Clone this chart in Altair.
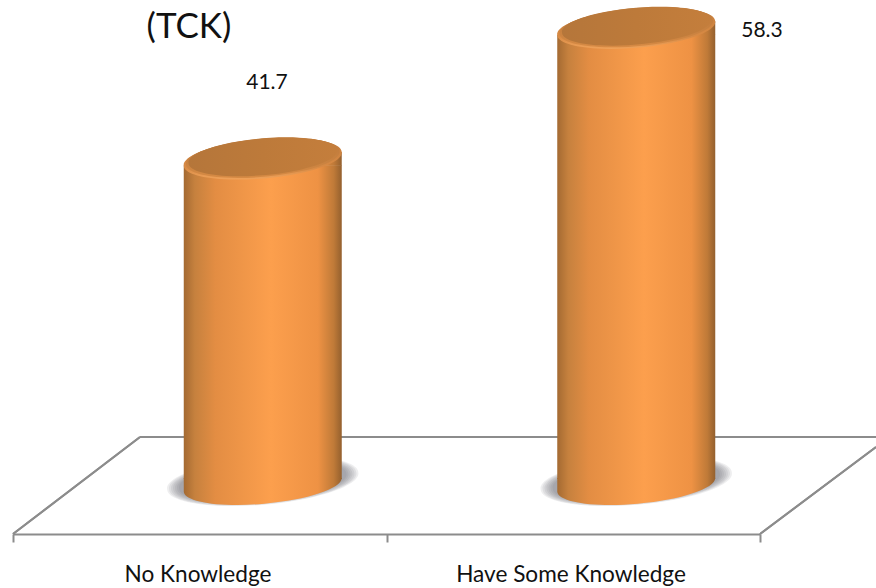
import altair as alt
import pandas as pd

categories = ["No Knowledge", "Have Some Knowledge"]
values = [41.7, 58.3]
heading = "(TCK)"

FONT = "Lato"
LINE = "#8c8c8c"
table = pd.DataFrame({"category": categories, "value": values})

# Unit-radius shapes for a slightly tilted cylinder cross-section.
ELLIPSE = ("M-0.996,0.087 A1,0.242 -5 1,1 0.996,-0.087 "
           "A1,0.242 -5 1,1 -0.996,0.087 Z")
LOWER_CAP = ("M-0.996,0.087 L-0.996,-0.087 L0.996,-0.087 "
             "A1,0.242 -5 0,1 -0.996,0.087 Z")
SHOULDER = "M-0.996,0.087 L0.996,-0.087 L0.996,0.087 Z"


def gradient(stops, vertical=False):
    return alt.LinearGradient(
        gradient="linear",
        x1=0, y1=0, x2=0 if vertical else 1, y2=1 if vertical else 0,
        stops=[alt.GradientStop(offset=o, color=c) for o, c in stops],
    )


BODY = gradient([(0, "#a46a32"), (0.07, "#c6813e"), (0.2, "#e38d43"),
                 (0.55, "#fc9f4d"), (0.85, "#ee9244"), (0.95, "#bf7a38"),
                 (1, "#94602e")])
RIM = gradient([(0, "#c27c3c"), (0.7, "#d88a44"), (1, "#efa25a")], vertical=True)
LID_EDGE = gradient([(0, "#bd7a3c"), (0.6, "#c98240"), (1, "#d68a44")], vertical=True)
LID = gradient([(0, "#b5763a"), (0.5, "#bd7a3a"), (1, "#c47e3c")])

x = alt.X("category:N", sort=categories,
          scale=alt.Scale(domain=categories, range=[13, 760],
                          paddingInner=0, paddingOuter=0),
          axis=alt.Axis(title=None, labels=False, tickBand="extent", tickSize=8,
                        tickWidth=2, tickColor=LINE, domainColor=LINE,
                        domainWidth=2, grid=False))
y_scale = alt.Scale(domain=[0, 61.88], range=[487, 0])
y = alt.Y("value:Q", stack=None, scale=y_scale, axis=None)
y_base = alt.Y("base:Q", stack=None, scale=y_scale, axis=None)

base = alt.Chart(table).transform_calculate(base="0")
SHIFT = 63
BASE_LIFT = -2


def symbol(shape, width, position, fill, y_shift=0, opacity=1):
    return base.mark_point(shape=shape, filled=True, size=width ** 2, fill=fill,
                           stroke=None, opacity=opacity, xOffset=SHIFT,
                           yOffset=y_shift).encode(x=x, y=position)


def rule(x1, y1, x2, y2):
    return alt.Chart(table).mark_rule(color=LINE, strokeWidth=2).encode(
        x=alt.value(x1), y=alt.value(y1), x2=alt.value(x2), y2=alt.value(y2))


def text(content, px, py, size):
    return alt.Chart(pd.DataFrame({"t": [content]})).mark_text(
        font=FONT, fontSize=size, color="#111111", align="center",
        baseline="middle").encode(x=alt.value(px), y=alt.value(py), text="t:N")


# Soft floor shadow built from stacked translucent ellipses.
shadow = [symbol(ELLIPSE, w, y_base, "#65686c", y_shift=BASE_LIFT - 4, opacity=0.11)
          for w in (192, 188, 184, 180, 176, 172, 168)]

body = (base.mark_bar(size=158, fill=BODY, xOffset=SHIFT, yOffset=6.5,
                      y2Offset=BASE_LIFT - 6)
        .encode(x=x, y=y, y2=alt.Y2("base:Q")))

chart = alt.layer(
    rule(140, 437, 876, 437),
    rule(13, 534, 140, 437),
    rule(760, 534, 876, 447),
    *shadow,
    symbol(LOWER_CAP, 158.6, y_base, BODY, y_shift=BASE_LIFT),
    body,
    symbol(SHOULDER, 158.6, y, BODY),
    symbol(ELLIPSE, 158.6, y, RIM),
    symbol(ELLIPSE, 154, y, LID_EDGE, y_shift=-1),
    symbol(ELLIPSE, 149, y, LID, y_shift=-2),
    text(f"{values[0]}", 267, 83, 21),
    text(f"{values[1]}", 762, 31, 21),
    text(heading, 189, 27, 35),
    text(categories[0], 198, 575, 22.6),
    text(categories[1], 571, 575, 22.6),
).properties(
    width=876, height=534,
    padding={"left": 0, "top": 0, "right": 0, "bottom": 54},
    autosize=alt.AutoSizeParams(type="none"),
    background="white",
).configure_view(stroke=None)

chart.save("out.html", embed_options={"renderer": "svg", "actions": False})
